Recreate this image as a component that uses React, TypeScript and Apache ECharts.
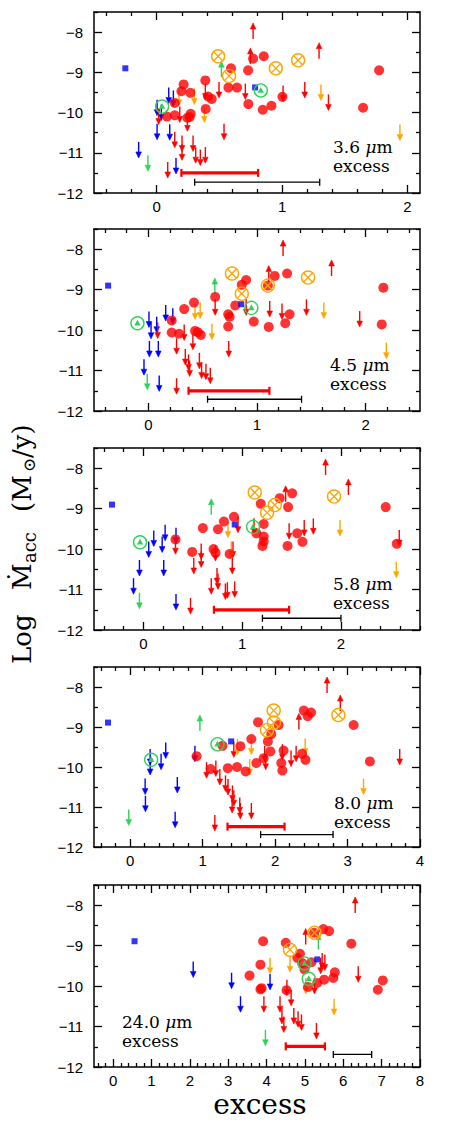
import React, { useEffect, useRef } from 'react';
import * as echarts from 'echarts';

// ---------------- Panel 1 : 3.6 um ----------------
const p1RedDots = [[0.215,-9.30],[0.197,-9.47],[0.269,-9.51],[0.388,-9.20],[0.410,-9.60],[0.439,-9.66],[0.391,-9.91],[0.144,-9.76],[0.082,-10.10],[0.144,-10.07],[0.245,-10.13],[0.271,-10.03],[0.263,-10.11],[0.593,-8.90],[0.572,-9.38],[0.641,-9.38],[0.729,-8.95],[0.769,-8.66],[0.854,-8.60],[0.731,-9.79],[0.846,-9.93],[0.915,-9.83],[1.003,-9.61],[1.646,-9.88],[1.774,-8.95]];
const p1RedDown = [[0.016,-9.90],[0.088,-11.23],[0.144,-10.48],[0.184,-9.85],[0.202,-10.57],[0.202,-10.79],[0.245,-10.07],[0.290,-10.57],[0.311,-10.86],[0.348,-10.92],[0.388,-10.86],[0.388,-9.28],[0.497,-9.24],[0.537,-10.28],[0.707,-9.28],[1.008,-9.33],[1.181,-9.24],[1.370,-9.55]];
const p1RedUp = [[0.769,-8.17],[1.295,-8.66],[0.747,-8.79]];
const p1BlueDown = [[-0.144,-10.73],[0.003,-9.68],[0.003,-10.28],[0.037,-9.80],[0.096,-9.38],[0.133,-9.45],[0.104,-10.29],[0.154,-11.13]];
const p1BlueSq = [[-0.25,-8.90],[0.785,-9.375]];
const p1GreenCirc = [[0.043,-9.85],[0.83,-9.45]];
const p1GreenUp = [[0.516,-9.12]];
const p1GreenDown = [[-0.07,-11.06]];
const p1OrangeX = [[0.49,-8.60],[0.577,-9.09],[0.95,-8.90],[1.128,-8.70]];
const p1OrangeDown = [[0.178,-9.43],[0.30,-9.40],[0.38,-9.85],[1.31,-9.30],[1.94,-10.30]];
const p1ErrRed = [[0.197,0.809,-11.5]];
const p1ErrBlack = [[0.303,1.30,-11.73]];

// ---------------- Panel 2 : 4.5 um ----------------
const p2RedDots = [[0.33,-9.48],[0.42,-9.32],[0.215,-9.76],[0.215,-10.06],[0.283,-10.09],[0.43,-10.02],[0.455,-10.05],[0.483,-10.12],[0.615,-9.18],[0.80,-9.39],[0.735,-9.61],[0.748,-9.67],[0.735,-9.91],[0.86,-8.88],[0.90,-8.76],[0.97,-9.79],[1.108,-9.92],[1.163,-8.66],[1.277,-8.60],[1.30,-9.61],[1.26,-9.83],[2.163,-8.95],[2.148,-9.86],[1.10,-8.90]];
const p2RedDown = [[0.086,-9.81],[0.26,-10.2],[0.26,-11.19],[0.33,-9.86],[0.34,-10.47],[0.37,-10.6],[0.38,-10.75],[0.41,-10.09],[0.47,-10.56],[0.49,-10.8],[0.53,-10.83],[0.57,-10.93],[0.615,-9.24],[0.74,-10.27],[0.90,-9.24],[1.117,-9.28],[1.23,-9.34],[1.455,-9.24],[1.945,-9.53]];
const p2RedUp = [[1.24,-8.17],[1.686,-8.66],[1.108,-8.80]];
const p2BlueDown = [[-0.04,-10.72],[0.006,-9.54],[0.025,-9.82],[0.01,-10.27],[0.077,-9.67],[0.092,-10.27],[0.16,-9.38],[0.225,-9.46],[0.10,-11.12]];
const p2BlueSq = [[-0.37,-8.90],[0.855,-9.36]];
const p2GreenCirc = [[-0.10,-9.83],[0.948,-9.45]];
const p2GreenUp = [[0.612,-9.11]];
const p2GreenDown = [[-0.01,-11.08]];
const p2OrangeX = [[0.77,-8.60],[0.86,-9.10],[1.10,-8.90],[1.47,-8.70]];
const p2OrangeDown = [[0.43,-9.34],[0.477,-9.32],[0.585,-9.84],[1.615,-9.32],[2.19,-10.31]];
const p2ErrRed = [[0.37,1.114,-11.5]];
const p2ErrBlack = [[0.545,1.41,-11.71]];

// ---------------- Panel 3 : 5.8 um ----------------
const p3RedDots = [[0.325,-9.76],[0.494,-10.07],[0.602,-9.48],[0.755,-9.51],[0.71,-10.0],[0.73,-10.09],[0.815,-9.32],[0.873,-10.12],[0.917,-9.2],[1.188,-8.88],[1.218,-9.38],[1.144,-9.61],[1.218,-9.69],[1.218,-9.81],[1.205,-9.92],[1.38,-8.74],[1.465,-8.96],[1.506,-8.62],[1.459,-9.92],[1.557,-9.61],[1.61,-9.82],[2.453,-8.96],[2.565,-9.87]];
const p3RedDown = [[0.325,-9.73],[0.477,-11.21],[0.51,-10.22],[0.585,-9.86],[0.585,-10.06],[0.687,-10.72],[0.73,-9.90],[0.745,-10.47],[0.755,-10.6],[0.83,-10.85],[0.85,-10.82],[0.924,-10.8],[0.907,-9.81],[0.9,-10.22],[0.958,-9.2],[1.12,-9.24],[1.475,-9.36],[1.628,-9.28],[1.72,-9.24],[2.59,-9.53]];
const p3RedUp = [[1.844,-8.17],[2.075,-8.66],[1.44,-8.83]];
const p3BlueDown = [[-0.1,-10.72],[-0.04,-10.27],[0.054,-9.81],[0.105,-9.54],[0.19,-9.69],[0.22,-9.40],[0.206,-10.27],[0.33,-9.47],[0.33,-11.11]];
const p3BlueSq = [[-0.318,-8.90],[0.924,-9.39]];
const p3GreenCirc = [[-0.034,-9.83],[1.11,-9.45]];
const p3GreenUp = [[0.687,-9.15]];
const p3GreenDown = [[-0.04,-11.08]];
const p3OrangeX = [[1.127,-8.60],[1.252,-9.10],[1.33,-8.91],[1.93,-8.70]];
const p3OrangeDown = [[0.856,-9.32],[0.89,-9.81],[1.99,-9.28],[2.56,-10.31]];
const p3ErrRed = [[0.714,1.475,-11.5]];
const p3ErrBlack = [[1.205,2.0,-11.71]];

// ---------------- Panel 4 : 8.0 um ----------------
const p4RedDots = [[0.916,-9.73],[1.109,-10.05],[1.274,-9.47],[1.347,-10.03],[1.475,-10.0],[1.521,-9.48],[1.594,-10.11],[1.672,-9.3],[1.741,-9.9],[1.764,-8.88],[1.842,-9.78],[1.9,-9.36],[1.947,-9.18],[1.934,-9.61],[2.048,-8.95],[2.085,-9.9],[2.1,-10.09],[2.117,-9.59],[2.396,-8.59],[2.45,-8.73],[2.497,-8.64],[2.373,-9.67],[2.419,-9.82],[3.084,-8.95],[3.308,-9.86]];
const p4RedDown = [[1.054,-9.88],[1.168,-11.2],[1.182,-9.84],[1.237,-10.05],[1.315,-10.21],[1.35,-10.3],[1.411,-10.46],[1.43,-10.58],[1.407,-10.75],[1.512,-10.76],[1.52,-10.9],[1.672,-10.9],[1.856,-9.47],[1.87,-9.67],[2.1,-9.43],[2.22,-9.59],[2.29,-9.47],[3.72,-9.55],[1.43,-9.36]];
const p4RedUp = [[2.717,-8.15],[2.9,-8.6],[2.328,-9.06]];
const p4BlueDown = [[0.206,-10.29],[0.21,-10.72],[0.275,-9.55],[0.275,-9.80],[0.426,-9.67],[0.49,-9.39],[0.65,-10.25],[0.62,-11.12],[0.893,-9.47]];
const p4BlueSq = [[-0.307,-8.89],[1.393,-9.36]];
const p4GreenCirc = [[0.289,-9.82],[1.205,-9.43]];
const p4GreenUp = [[0.962,-9.1]];
const p4GreenDown = [[-0.02,-11.06]];
const p4OrangeX = [[1.98,-8.59],[1.984,-8.89],[1.888,-9.08],[2.873,-8.70]];
const p4OrangeDown = [[1.48,-9.30],[1.672,-9.29],[1.65,-9.80],[2.415,-9.29],[3.22,-10.29]];
const p4ErrRed = [[1.343,2.13,-11.49]];
const p4ErrBlack = [[1.8,2.8,-11.69]];

// ---------------- Panel 5 : 24.0 um ----------------
const p5RedDots = [[3.91,-8.89],[3.84,-9.47],[3.556,-9.74],[3.87,-10.05],[3.84,-10.08],[4.5,-8.93],[4.52,-10.1],[4.8,-9.3],[4.87,-9.2],[4.93,-9.43],[4.99,-9.59],[5.08,-10.02],[5.17,-9.41],[5.32,-9.92],[5.48,-8.59],[5.63,-8.64],[5.74,-9.8],[5.78,-9.66],[5.5,-9.84],[6.21,-8.95],[6.9,-10.09],[7.03,-9.86],[5.24,-8.68]];
const p5RedDown = [[3.93,-10.25],[4.35,-10.25],[4.4,-10.54],[4.53,-9.84],[4.64,-10.09],[4.71,-10.54],[4.82,-10.62],[4.91,-10.7],[5.25,-9.8],[5.3,-10.91],[5.41,-9.3],[5.45,-9.18],[5.52,-9.22],[6.39,-9.51],[4.45,-10.75]];
const p5RedUp = [[6.31,-8.19],[5.02,-8.97]];
const p5BlueDown = [[2.087,-9.39],[3.087,-9.67],[3.32,-10.25],[4.09,-9.7]];
const p5BlueSq = [[0.557,-8.89],[5.32,-9.34]];
const p5GreenCirc = [[4.99,-9.44],[5.1,-9.82]];
const p5GreenUp = [[5.35,-9.1]];
const p5GreenDown = [[3.97,-11.08]];
const p5OrangeX = [[4.61,-9.10],[5.25,-8.68]];
const p5OrangeDown = [[4.09,-9.3],[4.61,-9.26],[5.02,-9.8],[5.76,-10.32]];
const p5ErrRed = [[4.5,5.52,-11.49]];
const p5ErrBlack = [[5.74,6.74,-11.69]];

// axis ranges and tick labels
const xRanges = [[-0.5, 2.1], [-0.5, 2.5], [-0.5, 2.8], [-0.5, 4], [-0.5, 8]];
const xTickLabels = [[0, 1, 2], [0, 1, 2], [0, 1, 2], [0, 1, 2, 3, 4], [0, 1, 2, 3, 4, 5, 6, 7, 8]];
const yRange = [-12, -7.5];
const yTickLabels = [-12, -11, -10, -9, -8];
const bandLabels = ['3.6', '4.5', '5.8', '8.0', '24.0'];

const panelData = [
  { redDots: p1RedDots, redDown: p1RedDown, redUp: p1RedUp, blueDown: p1BlueDown, blueSq: p1BlueSq, greenCirc: p1GreenCirc, greenUp: p1GreenUp, greenDown: p1GreenDown, orangeX: p1OrangeX, orangeDown: p1OrangeDown, errRed: p1ErrRed, errBlack: p1ErrBlack },
  { redDots: p2RedDots, redDown: p2RedDown, redUp: p2RedUp, blueDown: p2BlueDown, blueSq: p2BlueSq, greenCirc: p2GreenCirc, greenUp: p2GreenUp, greenDown: p2GreenDown, orangeX: p2OrangeX, orangeDown: p2OrangeDown, errRed: p2ErrRed, errBlack: p2ErrBlack },
  { redDots: p3RedDots, redDown: p3RedDown, redUp: p3RedUp, blueDown: p3BlueDown, blueSq: p3BlueSq, greenCirc: p3GreenCirc, greenUp: p3GreenUp, greenDown: p3GreenDown, orangeX: p3OrangeX, orangeDown: p3OrangeDown, errRed: p3ErrRed, errBlack: p3ErrBlack },
  { redDots: p4RedDots, redDown: p4RedDown, redUp: p4RedUp, blueDown: p4BlueDown, blueSq: p4BlueSq, greenCirc: p4GreenCirc, greenUp: p4GreenUp, greenDown: p4GreenDown, orangeX: p4OrangeX, orangeDown: p4OrangeDown, errRed: p4ErrRed, errBlack: p4ErrBlack },
  { redDots: p5RedDots, redDown: p5RedDown, redUp: p5RedUp, blueDown: p5BlueDown, blueSq: p5BlueSq, greenCirc: p5GreenCirc, greenUp: p5GreenUp, greenDown: p5GreenDown, orangeX: p5OrangeX, orangeDown: p5OrangeDown, errRed: p5ErrRed, errBlack: p5ErrBlack },
];

// layout
const gridTops = [12, 229, 448, 667, 885];
const gridHeights = [181, 182, 182, 180, 182];
const GRID_LEFT = 94;
const GRID_WIDTH = 326;
const bandTextPos = [[333, 138], [330, 356], [333, 575], [334, 794], [122, 1013]];

const RED = '#ff0000';
const BLUE = '#0000ff';
const GREEN = '#2fd15a';
const ORANGE = '#ffa500';
const TICK_FONT = 'Liberation Sans';
const SERIF = 'DejaVu Serif';

function arrowSeries(data: number[][], color: string, dir: number, idx: number) {
  return {
    type: 'custom',
    xAxisIndex: idx * 4,
    yAxisIndex: idx * 4,
    data,
    z: 3,
    clip: false,
    renderItem: (_p: any, api: any) => {
      const p = api.coord([api.value(0), api.value(1)]);
      const x = p[0];
      const y0 = p[1];
      const y1 = y0 + dir * 16;
      const yh = y1 - dir * 6;
      return {
        type: 'group',
        children: [
          { type: 'line', shape: { x1: x, y1: y0, x2: x, y2: yh }, style: { stroke: color, lineWidth: 1.4 } },
          { type: 'polygon', shape: { points: [[x - 2.8, yh], [x, y1], [x + 2.8, yh]] }, style: { fill: color, stroke: color, lineWidth: 0.6 } },
        ],
      };
    },
  };
}

function circleXSeries(data: number[][], idx: number) {
  return {
    type: 'custom', xAxisIndex: idx * 4, yAxisIndex: idx * 4, data, z: 6, clip: false,
    renderItem: (_p: any, api: any) => {
      const p = api.coord([api.value(0), api.value(1)]);
      const [x, y] = p;
      const r = 6.5;
      const d = 4.2;
      return {
        type: 'group',
        children: [
          { type: 'circle', shape: { cx: x, cy: y, r }, style: { stroke: ORANGE, fill: 'none', lineWidth: 1.4 } },
          { type: 'line', shape: { x1: x - d, y1: y - d, x2: x + d, y2: y + d }, style: { stroke: ORANGE, lineWidth: 1.3 } },
          { type: 'line', shape: { x1: x - d, y1: y + d, x2: x + d, y2: y - d }, style: { stroke: ORANGE, lineWidth: 1.3 } },
        ],
      };
    },
  };
}

function circleTriSeries(data: number[][], idx: number) {
  return {
    type: 'custom', xAxisIndex: idx * 4, yAxisIndex: idx * 4, data, z: 6, clip: false,
    renderItem: (_p: any, api: any) => {
      const p = api.coord([api.value(0), api.value(1)]);
      const [x, y] = p;
      return {
        type: 'group',
        children: [
          { type: 'circle', shape: { cx: x, cy: y, r: 6.5 }, style: { stroke: GREEN, fill: 'none', lineWidth: 1.4 } },
          { type: 'polygon', shape: { points: [[x, y - 3.5], [x - 3.2, y + 2.3], [x + 3.2, y + 2.3]] }, style: { fill: GREEN } },
        ],
      };
    },
  };
}

function errSeries(data: number[][], color: string, width: number, cap: number, idx: number) {
  return {
    type: 'custom', xAxisIndex: idx * 4, yAxisIndex: idx * 4, data, z: 4, clip: false,
    encode: { x: [0, 1], y: 2 },
    renderItem: (_p: any, api: any) => {
      const a = api.coord([api.value(0), api.value(2)]);
      const b = api.coord([api.value(1), api.value(2)]);
      return {
        type: 'group',
        children: [
          { type: 'line', shape: { x1: a[0], y1: a[1], x2: b[0], y2: b[1] }, style: { stroke: color, lineWidth: width } },
          { type: 'line', shape: { x1: a[0], y1: a[1] - cap, x2: a[0], y2: a[1] + cap }, style: { stroke: color, lineWidth: Math.max(1.3, width * 0.7) } },
          { type: 'line', shape: { x1: b[0], y1: b[1] - cap, x2: b[0], y2: b[1] + cap }, style: { stroke: color, lineWidth: Math.max(1.3, width * 0.7) } },
        ],
      };
    },
  };
}

function buildOption() {
  const grid: any[] = [];
  const xAxis: any[] = [];
  const yAxis: any[] = [];
  const series: any[] = [];
  const graphic: any[] = [];
  const lineStyle = { color: '#000', width: 1.5 };
  const tickStyle = { color: '#000', width: 1.3 };

  xRanges.forEach((rng, i) => {
    grid.push({ left: GRID_LEFT, top: gridTops[i], width: GRID_WIDTH, height: gridHeights[i], show: false });
    const xMaj: number[] = [];
    const xMin: number[] = [];
    for (let k = Math.ceil(rng[0] * 5 - 1e-9); k <= Math.floor(rng[1] * 5 + 1e-9); k++) {
      if (k % 5 === 0) xMaj.push(k / 5); else xMin.push(k / 5);
    }
    const yMaj: number[] = [];
    const yMin: number[] = [];
    for (let k = yRange[0] * 2; k <= yRange[1] * 2; k++) {
      if (k % 2 === 0) yMaj.push(k / 2); else yMin.push(k / 2);
    }
    const xb = { type: 'value', gridIndex: i, min: rng[0], max: rng[1], splitLine: { show: false } };
    const yb = { type: 'value', gridIndex: i, min: yRange[0], max: yRange[1], splitLine: { show: false } };
    ['bottom', 'top'].forEach((pos) => {
      xAxis.push({
        ...xb, position: pos,
        axisLine: { show: true, onZero: false, lineStyle },
        axisTick: { show: true, inside: true, length: 8, customValues: xMaj, lineStyle: tickStyle },
        axisLabel: pos === 'bottom'
          ? { show: true, customValues: xTickLabels[i], color: '#000', fontSize: 15, fontFamily: TICK_FONT, margin: 6, formatter: (v: number) => String(v) }
          : { show: false },
      });
      xAxis.push({
        ...xb, position: pos,
        axisLine: { show: false, onZero: false },
        axisTick: { show: true, inside: true, length: 4, customValues: xMin, lineStyle: tickStyle },
        axisLabel: { show: false },
      });
    });
    ['left', 'right'].forEach((pos) => {
      yAxis.push({
        ...yb, position: pos,
        axisLine: { show: true, onZero: false, lineStyle },
        axisTick: { show: true, inside: true, length: 8, customValues: yMaj, lineStyle: tickStyle },
        axisLabel: pos === 'left'
          ? { show: true, customValues: yTickLabels, color: '#000', fontSize: 15, fontFamily: TICK_FONT, margin: 11, formatter: (v: number) => (v < 0 ? '\u2212' + Math.abs(v) : String(v)) }
          : { show: false },
      });
      yAxis.push({
        ...yb, position: pos,
        axisLine: { show: false, onZero: false },
        axisTick: { show: true, inside: true, length: 4, customValues: yMin, lineStyle: tickStyle },
        axisLabel: { show: false },
      });
    });

    const d = panelData[i];
    series.push(errSeries(d.errBlack, '#000', 1.3, 3.5, i));
    series.push(errSeries(d.errRed, RED, 3.2, 4, i));
    series.push(arrowSeries(d.blueDown, BLUE, 1, i));
    series.push(arrowSeries(d.redDown, RED, 1, i));
    series.push(arrowSeries(d.redUp, RED, -1, i));
    series.push(arrowSeries(d.orangeDown, ORANGE, 1, i));
    series.push(arrowSeries(d.greenDown, GREEN, 1, i));
    series.push(arrowSeries(d.greenUp, GREEN, -1, i));
    series.push({ type: 'scatter', xAxisIndex: i * 4, yAxisIndex: i * 4, data: d.redDots, symbol: 'circle', symbolSize: 10, itemStyle: { color: RED }, z: 5 });
    series.push({ type: 'scatter', xAxisIndex: i * 4, yAxisIndex: i * 4, data: d.blueSq, symbol: 'rect', symbolSize: 6, itemStyle: { color: BLUE }, z: 5 });
    series.push(circleXSeries(d.orangeX, i));
    series.push(circleTriSeries(d.greenCirc, i));

    const [tx, ty] = bandTextPos[i];
    graphic.push({
      type: 'text', left: tx, top: ty, z: 10,
      style: {
        text: '{n|' + bandLabels[i] + ' }{m|\u03bc}{n|m}',
        rich: {
          n: { fontFamily: SERIF, fontSize: 17, fill: '#000' },
          m: { fontFamily: SERIF, fontSize: 17, fontStyle: 'italic', fill: '#000' },
        },
        fill: '#000',
      },
    });
    graphic.push({
      type: 'text', left: tx, top: ty + 19, z: 10,
      style: { text: 'excess', fontFamily: SERIF, fontSize: 17, fill: '#000' },
    });
  });

  // x axis title
  graphic.push({
    type: 'text', x: 260, y: 1104, z: 10,
    style: { text: 'excess', fontFamily: SERIF, fontSize: 28, fill: '#000', align: 'center', verticalAlign: 'middle' },
  });

  // y axis title (rotated)
  graphic.push({
    type: 'group', x: 22, y: 664, rotation: Math.PI / 2, z: 10,
    children: [
      { type: 'text', x: 0, y: 0, style: { text: 'Log', fontFamily: SERIF, fontSize: 26, fill: '#000', align: 'left', verticalAlign: 'middle' } },
      { type: 'text', x: 74, y: 0, style: { text: '\u1E40', fontFamily: SERIF, fontSize: 26, fill: '#000', align: 'left', verticalAlign: 'middle' } },
      { type: 'text', x: 101, y: 7, style: { text: 'acc', fontFamily: SERIF, fontSize: 18, fill: '#000', align: 'left', verticalAlign: 'middle' } },
      { type: 'text', x: 152, y: 0, style: { text: '(M', fontFamily: SERIF, fontSize: 26, fill: '#000', align: 'left', verticalAlign: 'middle' } },
      { type: 'text', x: 192, y: 7, style: { text: '\u2299', fontFamily: SERIF, fontSize: 17, fill: '#000', align: 'left', verticalAlign: 'middle' } },
      { type: 'text', x: 206, y: 0, style: { text: '/y)', fontFamily: SERIF, fontSize: 26, fill: '#000', align: 'left', verticalAlign: 'middle' } },
    ],
  });

  return { animation: false, backgroundColor: '#fff', grid, xAxis, yAxis, series, graphic };
}

export default function App() {
  const ref = useRef<HTMLDivElement>(null);
  useEffect(() => {
    document.body.style.margin = '0';
    if (!ref.current) return;
    const chart = echarts.init(ref.current, null, { renderer: 'svg' });
    chart.setOption(buildOption() as any);
    return () => chart.dispose();
  }, []);
  return <div ref={ref} style={{ width: 463, height: 1122 }} />;
}
